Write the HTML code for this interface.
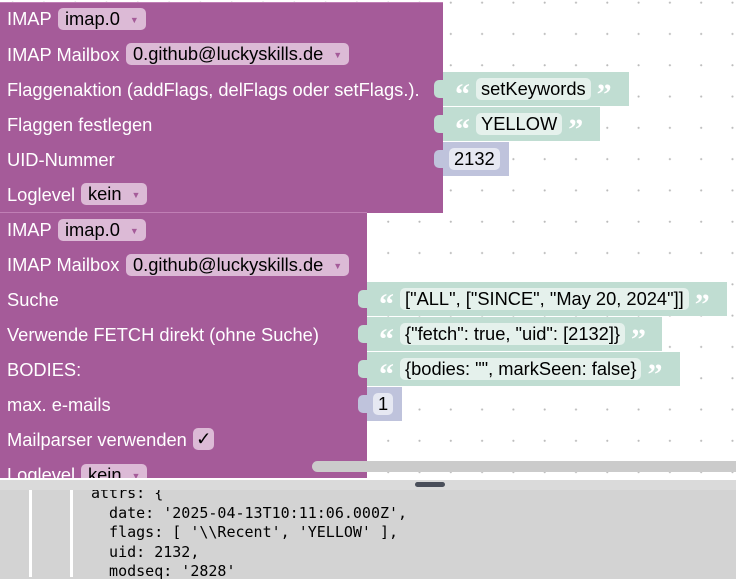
<!DOCTYPE html>
<html><head><meta charset="utf-8"><style>
body{margin:0;width:736px;height:577px;overflow:hidden;position:relative;font-family:"Liberation Sans",Arial,sans-serif;background:#fff;
background-image:radial-gradient(circle,#bbb 0.9px,transparent 1.2px);background-size:31.3px 31.3px;background-position:-3px -13px;}
.a{position:absolute}
.p{background:#a55b99}
.t{position:absolute;color:#fff;font-size:18.3px;line-height:20px;white-space:nowrap}
.dd{position:absolute;background:#dcbad6;border-radius:5px;color:#000;font-size:18.3px;line-height:22px;height:22px;padding:0 7px;white-space:nowrap}
.dd i{font-style:normal;font-size:9px;color:#a55b99;margin-left:10px;vertical-align:2px}
.g{position:absolute;background:#c0ddd2;height:34px;display:flex;align-items:center;padding-left:12px;box-sizing:border-box}
.g .b{height:22px;background:#e5f1ec;border-radius:5px;font-size:18.3px;line-height:22px;padding:0 5px;color:#000;white-space:nowrap;margin:0 6px}
.q{color:#fff;font-size:30px;font-weight:bold;line-height:22px;height:22px;font-family:"Liberation Serif",serif;padding-top:6px;box-sizing:border-box}
.n{position:absolute;background:#bfc3dc;height:34px}
.n .b{position:absolute;top:6px;left:6px;height:22px;background:#e6e8f2;border-radius:5px;font-size:18.3px;line-height:22px;padding:0 5px;color:#000}
.tab{position:absolute;left:-9px;top:8px;width:10px;height:18px;border-radius:5px 0 0 5px}
.mono{position:absolute;font-family:"DejaVu Sans Mono","Liberation Mono",monospace;font-size:15px;line-height:19.5px;color:#000;white-space:pre}
</style></head><body>
<!-- block 1 -->
<div class="a p" style="left:0;top:2px;width:443px;height:210px;border-top:1px solid #c07fb5"></div>
<div class="t" style="left:7px;top:9px">IMAP</div><div class="dd" style="left:58px;top:8px">imap.0<i>▼</i></div>
<div class="t" style="left:7px;top:45px">IMAP Mailbox</div><div class="dd" style="left:126px;top:43px">0.github@luckyskills.de<i>▼</i></div>
<div class="t" style="left:7px;top:80px">Flaggenaktion (addFlags, delFlags oder setFlags.).</div>
<div class="t" style="left:7px;top:115px">Flaggen festlegen</div>
<div class="t" style="left:7px;top:150px">UID-Nummer</div>
<div class="t" style="left:7px;top:185px">Loglevel</div><div class="dd" style="left:81px;top:183px">kein<i>▼</i></div>
<div class="g" style="left:443px;top:72px;width:186px"><div class="tab" style="background:#c0ddd2"></div><span class="q">“</span><div class="b">setKeywords</div><span class="q">”</span></div>
<div class="g" style="left:443px;top:107px;width:157px"><div class="tab" style="background:#c0ddd2"></div><span class="q">“</span><div class="b">YELLOW</div><span class="q">”</span></div>
<div class="n" style="left:443px;top:142px;width:66px"><div class="tab" style="background:#bfc3dc"></div><div class="b">2132</div></div>
<!-- block 2 -->
<div class="a p" style="left:0;top:212px;width:367px;height:270px;border-top:1px solid #c07fb5"></div>
<div class="t" style="left:7px;top:220px">IMAP</div><div class="dd" style="left:58px;top:219px">imap.0<i>▼</i></div>
<div class="t" style="left:7px;top:255px">IMAP Mailbox</div><div class="dd" style="left:126px;top:254px">0.github@luckyskills.de<i>▼</i></div>
<div class="t" style="left:7px;top:290px">Suche</div>
<div class="t" style="left:7px;top:325px">Verwende FETCH direkt (ohne Suche)</div>
<div class="t" style="left:7px;top:360px">BODIES:</div>
<div class="t" style="left:7px;top:395px">max. e-mails</div>
<div class="t" style="left:7px;top:430px">Mailparser verwenden</div><div class="dd" style="left:193px;top:428px;padding:0 3px">✓</div>
<div class="t" style="left:7px;top:465px">Loglevel</div><div class="dd" style="left:81px;top:464px">kein<i>▼</i></div>
<div class="g" style="left:367px;top:282px;width:360px"><div class="tab" style="background:#c0ddd2"></div><span class="q">“</span><div class="b">["ALL", ["SINCE", "May 20, 2024"]]</div><span class="q">”</span></div>
<div class="g" style="left:367px;top:317px;width:295px"><div class="tab" style="background:#c0ddd2"></div><span class="q">“</span><div class="b">{"fetch": true, "uid": [2132]}</div><span class="q">”</span></div>
<div class="g" style="left:367px;top:352px;width:313px"><div class="tab" style="background:#c0ddd2"></div><span class="q">“</span><div class="b">{bodies: "", markSeen: false}</div><span class="q">”</span></div>
<div class="n" style="left:367px;top:387px;width:35px"><div class="tab" style="background:#bfc3dc"></div><div class="b">1</div></div>
<!-- scrollbar -->
<div class="a" style="left:312px;top:461px;width:430px;height:11px;background:#cbcbcb;border-radius:6px"></div>
<!-- bottom panel -->
<div class="a" style="left:0;top:478px;width:736px;height:99px;background:#d3d3d3;border-top:2px solid #fff"></div>
<div class="a" style="left:29px;top:490px;width:3px;height:87px;background:#fff"></div>
<div class="a" style="left:70px;top:490px;width:3px;height:87px;background:#fff"></div>
<div class="mono" style="left:91px;top:484px">attrs: {
  date: '2025-04-13T10:11:06.000Z',
  flags: [ '\\Recent', 'YELLOW' ],
  uid: 2132,
  modseq: '2828'</div>
<div class="a" style="left:0;top:480px;width:736px;height:10px;background:#dadada"></div>
<div class="a" style="left:415px;top:482px;width:30px;height:5px;background:#4a4f5a;border-radius:3px"></div>
</body></html>
